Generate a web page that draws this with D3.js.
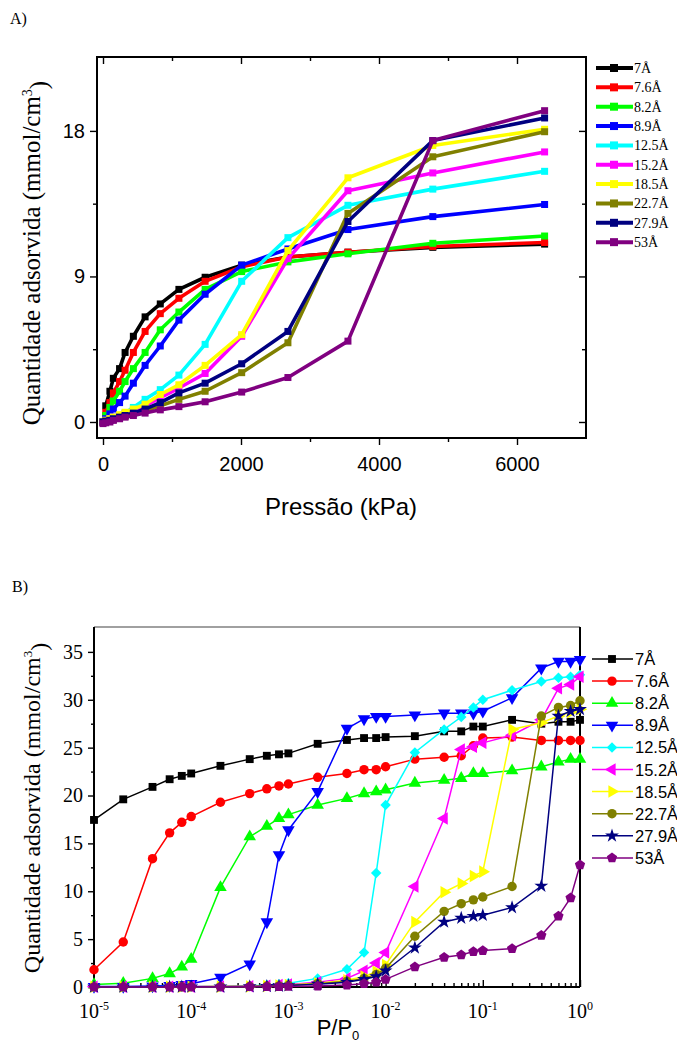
<!DOCTYPE html>
<html><head><meta charset="utf-8">
<script src="https://cdn.jsdelivr.net/npm/d3@7"></script>
<style>body{margin:0;background:#fff}svg{display:block}</style>
</head><body>
<script>
// ---------------- DATA ----------------
const labels = ["7Å","7.6Å","8.2Å","8.9Å","12.5Å","15.2Å","18.5Å","22.7Å","27.9Å","53Å"];
const colors = ["#000000","#ff0000","#00ff00","#0000ff","#00ffff","#ff00ff","#ffff00","#808000","#000080","#800080"];

// Panel A: pressure (kPa)
const pressA = [0, 40, 100, 150, 240, 320, 440, 610, 830, 1100, 1480, 2010, 2680, 3550, 4780, 6400];
const a7   = [0, 1.0, 1.9, 2.7, 3.3, 4.3, 5.3, 6.5, 7.3, 8.2, 8.95, 9.7, 10.2, 10.5, 10.8, 11.0];
const a76  = [0, 0.6, 1.2, 1.8, 2.5, 3.2, 4.3, 5.6, 6.7, 7.65, 8.7, 9.6, 10.2, 10.5, 10.85, 11.1];
const a82  = [0, 0.4, 0.9, 1.3, 1.9, 2.5, 3.3, 4.3, 5.7, 6.8, 8.2, 9.3, 9.9, 10.4, 11.05, 11.5];
const a89  = [0, 0.2, 0.5, 0.8, 1.2, 1.6, 2.4, 3.5, 4.7, 6.3, 7.9, 9.7, 10.7, 11.9, 12.7, 13.45];
const a125 = [0, 0.1, 0.2, 0.3, 0.4, 0.55, 0.9, 1.4, 2.0, 2.9, 4.8, 8.7, 11.4, 13.4, 14.4, 15.5];
const a152 = [0, 0.1, 0.2, 0.3, 0.4, 0.5, 0.7, 1.0, 1.5, 2.1, 3.0, 5.3, 10.1, 14.3, 15.4, 16.7];
const a185 = [0, 0.1, 0.2, 0.3, 0.45, 0.6, 0.8, 1.1, 1.7, 2.3, 3.5, 5.4, 10.6, 15.1, 17.1, 18.1];
const a227 = [0, 0.05, 0.1, 0.15, 0.25, 0.35, 0.5, 0.7, 1.0, 1.4, 1.9, 3.05, 4.9, 12.9, 16.4, 17.95];
const a279 = [0, 0.05, 0.1, 0.2, 0.3, 0.4, 0.55, 0.8, 1.2, 1.8, 2.4, 3.6, 5.6, 12.4, 17.4, 18.8];
const a53  = [-0.1, -0.05, 0, 0.1, 0.2, 0.3, 0.4, 0.55, 0.75, 0.95, 1.25, 1.85, 2.75, 5.0, 17.4, 19.25];
const seriesA = [a7, a76, a82, a89, a125, a152, a185, a227, a279, a53];
const xTicksA = [0, 2000, 4000, 6000];
const yTicksA = [0, 9, 18];

// Panel B: relative pressure P/P0
const ppB = [1e-5,2e-5,4e-5,6e-5,8e-5,1e-4,2e-4,4e-4,6e-4,8e-4,1e-3,2e-3,4e-3,6e-3,8e-3,1e-2,2e-2,4e-2,6e-2,8e-2,0.1,0.2,0.4,0.6,0.8,1.0];
const b7   = [17.45,19.6,20.9,21.7,22.05,22.3,23.1,23.8,24.15,24.3,24.4,25.4,25.8,26.0,26.0,26.1,26.2,26.7,26.7,27.2,27.2,27.9,27.5,27.7,27.7,27.9];
const b76  = [1.8,4.7,13.4,16.1,17.2,17.8,19.3,20.2,20.7,21.0,21.2,21.9,22.3,22.7,22.7,23.0,23.8,24.0,24.15,25.2,26.0,26.1,25.75,25.75,25.75,25.75];
const b82  = [0.25,0.4,0.9,1.4,2.1,2.9,10.4,15.7,16.8,17.6,18.0,19.0,19.7,20.2,20.4,20.6,21.3,21.6,21.8,22.3,22.3,22.6,23.0,23.5,23.8,23.8];
const b89  = [0.05,0.05,0.1,0.15,0.25,0.35,1.0,2.4,6.8,13.8,16.4,20.4,27.0,28.0,28.25,28.25,28.4,28.6,28.6,28.6,28.8,30.2,33.3,34.0,34.0,34.2];
const b125 = [0.02,0.02,0.03,0.04,0.05,0.05,0.06,0.1,0.2,0.3,0.4,0.9,1.85,3.6,11.9,19.0,24.5,26.9,28.2,29.2,30.0,31.0,31.9,32.3,32.4,32.6];
const b152 = [0.02,0.02,0.02,0.03,0.03,0.04,0.05,0.08,0.12,0.2,0.25,0.5,0.9,1.7,2.5,3.6,10.5,17.6,24.8,25.1,25.5,26.3,27.9,31.2,31.6,32.4];
const b185 = [0.02,0.02,0.02,0.02,0.03,0.03,0.04,0.06,0.1,0.15,0.2,0.4,0.7,1.1,1.6,2.3,6.8,9.9,10.8,11.6,12.05,26.9,27.6,28.3,28.7,29.0];
const b227 = [0.01,0.01,0.02,0.02,0.02,0.03,0.04,0.05,0.08,0.12,0.18,0.35,0.6,0.9,1.3,1.95,5.3,7.9,8.7,9.1,9.4,10.5,28.3,29.2,29.4,29.9];
const b279 = [0.01,0.01,0.01,0.02,0.02,0.02,0.03,0.05,0.07,0.1,0.15,0.3,0.5,0.8,1.1,1.7,4.1,6.8,7.2,7.4,7.5,8.3,10.55,28.3,28.8,29.0];
const b53  = [0.01,0.01,0.01,0.01,0.01,0.01,0.02,0.03,0.04,0.05,0.06,0.1,0.2,0.35,0.5,0.8,2.1,3.1,3.35,3.7,3.8,4.0,5.4,7.4,9.3,12.75];
const seriesB = [b7, b76, b82, b89, b125, b152, b185, b227, b279, b53];
const yTicksB = [0,5,10,15,20,25,30,35];
const xDecadesB = [-5,-4,-3,-2,-1,0];

// ---------------- DRAWING ----------------
const SERIF = "'Liberation Serif','Times New Roman',serif";
const SANS = "'Liberation Sans',Arial,sans-serif";
const svg = d3.select("body").append("svg").attr("width",677).attr("height",1045);

// ===== Panel A =====
const A = {l:97, r:586, t:57, b:438};
const xA = d3.scaleLinear().domain([-87,7000]).range([A.l,A.r]);
const yA = d3.scaleLinear().domain([-0.99,22.57]).range([A.b,A.t]);
const gA = svg.append("g");

svg.append("text").attr("x",10).attr("y",24).attr("font-family",SERIF).attr("font-size",16).text("A)");

const xtA = d3.range(0,7000,1000);
const ytA = [0,4.5,9,13.5,18];
function styleAxis(g){ g.select(".domain").remove(); g.selectAll(".tick line").attr("stroke","#000").attr("stroke-width",1.4); }
gA.append("g").attr("transform",`translate(0,${A.b})`)
  .call(d3.axisBottom(xA).tickValues(xtA).tickSize(7).tickPadding(12).tickFormat(d=>xTicksA.includes(d)?d:""))
  .call(styleAxis).call(g=>{g.selectAll(".tick line").attr("y2",d=>xTicksA.includes(d)?7:4);
    g.selectAll("text").attr("font-family",SANS).attr("font-size",20).attr("fill","#000");});
gA.append("g").attr("transform",`translate(0,${A.t})`)
  .call(d3.axisTop(xA).tickValues(xtA).tickSize(-6).tickFormat(""))
  .call(styleAxis).call(g=>g.selectAll(".tick line").attr("y2",d=>xTicksA.includes(d)?7:4));
gA.append("g").attr("transform",`translate(${A.l},0)`)
  .call(d3.axisLeft(yA).tickValues(ytA).tickSize(7).tickPadding(5).tickFormat(d=>yTicksA.includes(d)?d:""))
  .call(styleAxis).call(g=>{g.selectAll(".tick line").attr("x2",d=>yTicksA.includes(d)?-7:-4);
    g.selectAll("text").attr("font-family",SANS).attr("font-size",20).attr("fill","#000");});
gA.append("g").attr("transform",`translate(${A.r},0)`)
  .call(d3.axisRight(yA).tickValues(ytA).tickSize(-6).tickFormat(""))
  .call(styleAxis).call(g=>g.selectAll(".tick line").attr("x2",d=>yTicksA.includes(d)?-7:-4));
gA.append("rect").attr("x",A.l).attr("y",A.t).attr("width",A.r-A.l).attr("height",A.b-A.t)
  .attr("fill","none").attr("stroke","#000").attr("stroke-width",2);

const lineA = d3.line().x((d,i)=>xA(pressA[i])).y(d=>yA(d));
seriesA.forEach((s,k)=>{
  const g = gA.append("g");
  g.append("path").attr("d",lineA(s)).attr("fill","none").attr("stroke",colors[k]).attr("stroke-width",3.6).attr("stroke-linejoin","round");
  g.selectAll("rect").data(s).join("rect")
    .attr("x",(d,i)=>xA(pressA[i])-3.5).attr("y",d=>yA(d)-3.5).attr("width",7).attr("height",7).attr("fill",colors[k]);
});

// axis titles A
gA.append("text").attr("x",341).attr("y",515).attr("text-anchor","middle")
  .attr("font-family",SANS).attr("font-size",24).text("Pressão (kPa)");
const tyA = gA.append("text").attr("transform","translate(40,253) rotate(-90)").attr("text-anchor","middle")
  .attr("font-family",SERIF).attr("font-size",25);
tyA.append("tspan").text("Quantidade adsorvida (mmol/cm");
tyA.append("tspan").attr("dy","-0.6em").attr("font-size",14).text("3");
tyA.append("tspan").attr("dy","0.6em").text(")");

// legend A
labels.forEach((lab,k)=>{
  const y = 68 + k*19.35;
  const g = gA.append("g");
  g.append("line").attr("x1",596).attr("x2",633).attr("y1",y).attr("y2",y).attr("stroke",colors[k]).attr("stroke-width",4);
  g.append("rect").attr("x",610).attr("y",y-4).attr("width",8).attr("height",8).attr("fill",colors[k]);
  g.append("text").attr("x",634).attr("y",y+5).attr("font-family",SERIF).attr("font-size",14).text(lab);
});

// ===== Panel B =====
const B = {l:94, r:580, t:627, b:987};
const xB = d3.scaleLog().domain([1e-5,1]).range([B.l,B.r]);
const yB = d3.scaleLinear().domain([0,37.6]).range([B.b,B.t]);
const gB = svg.append("g");
svg.append("text").attr("x",12).attr("y",592).attr("font-family",SERIF).attr("font-size",16).text("B)");

// x ticks (inward)
const minorX = [];
xDecadesB.slice(0,-1).forEach(e=>{ for(let m=2;m<=9;m++) minorX.push(m*Math.pow(10,e)); });
const majorX = xDecadesB.map(e=>Math.pow(10,e));
gB.append("g").attr("transform",`translate(0,${B.b})`)
  .call(d3.axisBottom(xB).tickValues(majorX.concat(minorX)).tickSize(-7).tickFormat(""))
  .call(styleAxis).call(g=>g.selectAll(".tick line").attr("y2",d=>majorX.includes(d)?-7:-4));
xDecadesB.forEach(e=>{
  const t = gB.append("text").attr("x",xB(Math.pow(10,e))).attr("y",1018).attr("text-anchor","middle")
    .attr("font-family",SERIF).attr("font-size",20);
  t.append("tspan").text("10");
  t.append("tspan").attr("dy","-0.65em").attr("font-size",12).text(e===0?"0":"-"+(-e));
});
// y ticks (outward)
const ytB = d3.range(0,37.5,2.5);
gB.append("g").attr("transform",`translate(${B.l},0)`)
  .call(d3.axisLeft(yB).tickValues(ytB).tickSize(6).tickPadding(6).tickFormat(d=>yTicksB.includes(d)?d:""))
  .call(styleAxis).call(g=>{g.selectAll(".tick line").attr("x2",d=>yTicksB.includes(d)?-6:-3);
    g.selectAll("text").attr("font-family",SERIF).attr("font-size",20).attr("fill","#000").attr("x",-11);});
// frame
gB.append("line").attr("x1",B.l).attr("x2",B.r).attr("y1",B.t).attr("y2",B.t).attr("stroke","#808080").attr("stroke-width",1.6);
gB.append("line").attr("x1",B.r).attr("x2",B.r).attr("y1",B.t).attr("y2",B.b).attr("stroke","#000").attr("stroke-width",2);
gB.append("line").attr("x1",B.l).attr("x2",B.l).attr("y1",B.t).attr("y2",B.b).attr("stroke","#000").attr("stroke-width",2);
gB.append("line").attr("x1",B.l).attr("x2",B.r).attr("y1",B.b).attr("y2",B.b).attr("stroke","#000").attr("stroke-width",2);

// symbols
function pentagon(r){ const p=[]; for(let i=0;i<5;i++){const a=-Math.PI/2+i*2*Math.PI/5; p.push([r*Math.cos(a),r*Math.sin(a)]);} return "M"+p.map(q=>q.join(",")).join("L")+"Z"; }
const symDefs = [
  {t:d3.symbolSquare, s:62, r:0},
  {t:d3.symbolCircle, s:70, r:0},
  {t:d3.symbolTriangle, s:68, r:0},
  {t:d3.symbolTriangle, s:68, r:180},
  {t:d3.symbolDiamond2, s:70, r:0},
  {t:d3.symbolTriangle, s:68, r:-90},
  {t:d3.symbolTriangle, s:68, r:90},
  {t:d3.symbolCircle, s:70, r:0},
  {t:d3.symbolStar, s:60, r:0},
  {t:null, s:0, r:0}
];
function symPath(k){ const s=symDefs[k]; return s.t? d3.symbol().type(s.t).size(s.s)() : pentagon(5.4); }

const lineB = d3.line().x((d,i)=>xB(ppB[i])).y(d=>yB(d));
seriesB.forEach((s,k)=>{
  const g = gB.append("g");
  g.append("path").attr("d",lineB(s)).attr("fill","none").attr("stroke",colors[k]).attr("stroke-width",1.5);
  g.selectAll("path.m").data(s).join("path").attr("class","m").attr("d",symPath(k)).attr("fill",colors[k])
    .attr("transform",(d,i)=>`translate(${xB(ppB[i])},${yB(d)}) rotate(${symDefs[k].r})`);
});

// axis titles B
const txB = gB.append("text").attr("x",338).attr("y",1035).attr("text-anchor","middle").attr("font-family",SANS).attr("font-size",22);
txB.append("tspan").text("P/P");
txB.append("tspan").attr("dy","0.35em").attr("font-size",13).text("0");
const tyB = gB.append("text").attr("transform","translate(40,808) rotate(-90)").attr("text-anchor","middle")
  .attr("font-family",SERIF).attr("font-size",24);
tyB.append("tspan").text("Quantidade adsorvida (mmol/cm");
tyB.append("tspan").attr("dy","-0.6em").attr("font-size",13).text("3");
tyB.append("tspan").attr("dy","0.6em").text(")");

// legend B
labels.forEach((lab,k)=>{
  const y = 659 + k*22.1;
  const g = gB.append("g");
  g.append("line").attr("x1",592).attr("x2",633).attr("y1",y).attr("y2",y).attr("stroke",colors[k]).attr("stroke-width",1.5);
  g.append("path").attr("d",symPath(k)).attr("fill",colors[k]).attr("transform",`translate(612,${y}) rotate(${symDefs[k].r})`);
  g.append("text").attr("x",635).attr("y",y+6).attr("font-family",SANS).attr("font-size",16.5).text(lab);
});
</script>
</body></html>
